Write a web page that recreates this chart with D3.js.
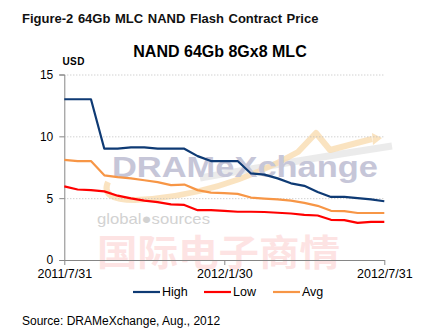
<!DOCTYPE html>
<html>
<head>
<meta charset="utf-8">
<script src="https://cdn.jsdelivr.net/npm/d3@7/dist/d3.min.js"></script>
<style>
  html, body { margin: 0; padding: 0; background: #fff; }
  svg { display: block; font-family: "Liberation Sans", Arial, sans-serif; }
</style>
</head>
<body>
<svg id="chart" width="446" height="334"></svg>
<script>
// ---- data ----
const periods = d3.range(25); // half-monthly contract periods, 2011/7/31 .. 2012/7/31
const xTickIndex = [0, 12, 24];
const xTickLabels = ["2011/7/31", "2012/1/30", "2012/7/31"];
const yTicks = [0, 5, 10, 15];
const seriesNames = ["High", "Low", "Avg"];
const seriesColors = ["#0E3A74", "#FF0000", "#F79646"];
const high = [13.0, 13.0, 13.0, 9.0, 9.0, 9.1, 9.1, 9.0, 9.0, 9.0, 8.4, 8.0, 8.0, 8.0, 7.0, 6.9, 6.6, 6.2, 6.0, 5.5, 5.1, 5.1, 5.0, 4.9, 4.75];
const low  = [5.95, 5.7, 5.65, 5.55, 5.2, 4.98, 4.8, 4.68, 4.5, 4.45, 4.03, 4.03, 3.98, 3.9, 3.9, 3.88, 3.82, 3.76, 3.65, 3.6, 3.25, 3.23, 3.0, 3.08, 3.08];
const avg  = [8.1, 8.0, 8.0, 6.85, 6.7, 6.6, 6.45, 6.3, 6.05, 6.1, 5.65, 5.45, 5.4, 5.35, 5.05, 4.97, 4.9, 4.8, 4.62, 4.38, 3.98, 3.95, 3.8, 3.8, 3.8];
const seriesValues = [high, low, avg];

const svg = d3.select("#chart");
const x = d3.scaleLinear().domain([0, 24]).range([64.3, 384.3]);
const y = d3.scaleLinear().domain([0, 15]).range([260, 74.5]);

// ---- titles ----
svg.append("text").attr("x", 22).attr("y", 23)
  .attr("font-size", 13).attr("font-weight", "bold").attr("fill", "#111")
  .attr("word-spacing", 1)
  .text("Figure-2 64Gb MLC NAND Flash Contract Price");
svg.append("text").attr("x", 220).attr("y", 57).attr("text-anchor", "middle")
  .attr("font-size", 16).attr("font-weight", "bold").attr("fill", "#000")
  .text("NAND 64Gb 8Gx8 MLC");
svg.append("text").attr("x", 62.5).attr("y", 65)
  .attr("font-size", 10).attr("font-weight", "bold").attr("fill", "#000")
  .attr("letter-spacing", 0.4)
  .text("USD");

// ---- watermark ----
const wm = svg.append("g").attr("pointer-events", "none");
wm.append("path")
  .attr("d", "M200,178 Q300,160 392,146")
  .attr("fill", "none").attr("stroke", "#e6e6e6").attr("stroke-width", 7).attr("opacity", 0.8);
wm.append("path")
  .attr("d", "M108,182 Q100,200 135,200 Q220,196 298,152 L316,133 L330,150 L372,139")
  .attr("fill", "none").attr("stroke", "#f9dcb0").attr("stroke-width", 6)
  .attr("stroke-linejoin", "round").attr("opacity", 0.8);
wm.append("path")
  .attr("d", "M372,133 L382,138 L373,145 Z").attr("fill", "#f9dcb0").attr("opacity", 0.8);
wm.append("text").attr("x", 112).attr("y", 177)
  .attr("font-size", 30).attr("font-weight", "bold").attr("fill", "#c6c6d8")
  .attr("textLength", 266).attr("lengthAdjust", "spacingAndGlyphs")
  .text("DRAMeXchange");
wm.append("text").attr("x", 97).attr("y", 224)
  .attr("font-size", 15).attr("fill", "#d2d2d2")
  .attr("textLength", 113).attr("lengthAdjust", "spacingAndGlyphs")
  .text("global\u25CFsources");
wm.append("text").attr("x", 97).attr("y", 266)
  .attr("font-size", 36).attr("font-weight", "bold").attr("fill", "#fde3e3")
  .attr("font-family", "'Noto Sans CJK SC', sans-serif")
  .attr("textLength", 243).attr("lengthAdjust", "spacingAndGlyphs")
  .text("国际电子商情");

// ---- grid ----
svg.append("g").selectAll("line").data(yTicks.filter(d => d > 0)).join("line")
  .attr("x1", x(0)).attr("x2", x(24))
  .attr("y1", d => y(d) + 0.5).attr("y2", d => y(d) + 0.5)
  .attr("stroke", "#bdbdbd").attr("stroke-width", 1).attr("stroke-dasharray", "1,2");

// ---- axes ----
const yAxis = svg.append("g").attr("transform", `translate(${x(0)},0)`)
  .call(d3.axisLeft(y).tickValues(yTicks).tickSize(5).tickPadding(6));
yAxis.select(".domain").attr("stroke", "#868686");
yAxis.selectAll(".tick line").attr("stroke", "#868686");
yAxis.selectAll(".tick text").attr("font-size", 12).attr("fill", "#000")
  .attr("font-family", "'Liberation Sans', Arial, sans-serif");

const xAxis = svg.append("g").attr("transform", `translate(0,${y(0)})`)
  .call(d3.axisBottom(x).tickValues(xTickIndex)
    .tickFormat((d, i) => xTickLabels[i]).tickSize(5).tickPadding(4).tickSizeOuter(0));
xAxis.select(".domain").attr("stroke", "#868686");
xAxis.selectAll(".tick line").attr("stroke", "#868686");
xAxis.selectAll(".tick text").attr("font-size", 12.5).attr("fill", "#000")
  .attr("font-family", "'Liberation Sans', Arial, sans-serif");

// ---- lines ----
const line = d3.line().x((d, i) => x(periods[i])).y(d => y(d));
svg.append("g").selectAll("path").data(seriesValues).join("path")
  .attr("d", d => line(d))
  .attr("fill", "none")
  .attr("stroke", (d, i) => seriesColors[i])
  .attr("stroke-width", 2.2)
  .attr("stroke-linejoin", "round");

// ---- legend ----
const legendX = [133, 204, 273];
const lg = svg.append("g").selectAll("g").data(seriesNames).join("g")
  .attr("transform", (d, i) => `translate(${legendX[i]},296)`);
lg.append("line").attr("x1", 0).attr("x2", 27).attr("y1", -4).attr("y2", -4)
  .attr("stroke", (d, i) => seriesColors[i]).attr("stroke-width", 2.2);
lg.append("text").attr("x", 29).attr("y", 0).attr("font-size", 12.5).attr("fill", "#000")
  .text(d => d);

// ---- source ----
svg.append("text").attr("x", 22).attr("y", 325)
  .attr("font-size", 12).attr("fill", "#000")
  .text("Source: DRAMeXchange, Aug., 2012");
</script>
</body>
</html>
